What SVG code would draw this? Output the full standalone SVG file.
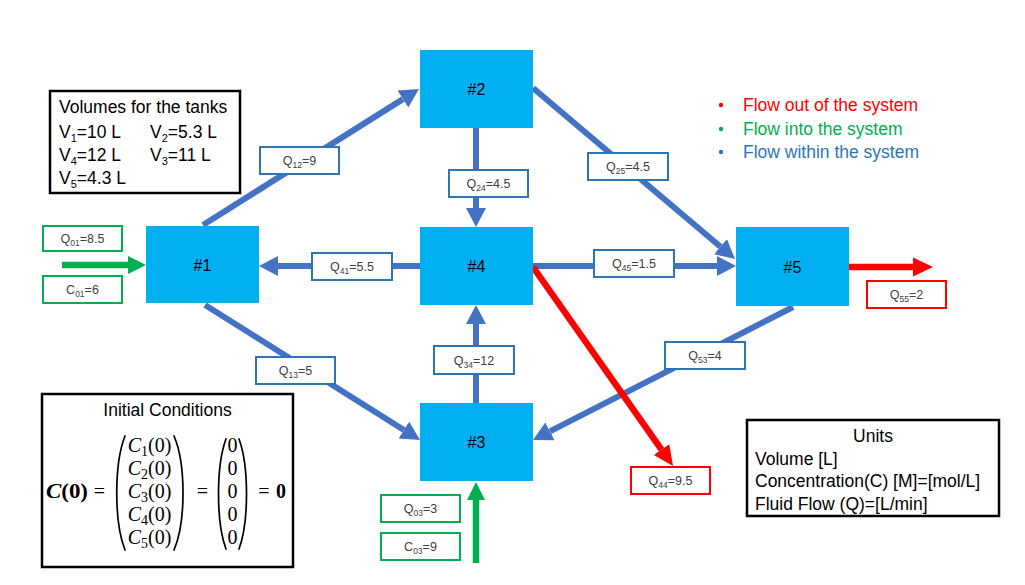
<svg xmlns="http://www.w3.org/2000/svg" width="1025" height="585" viewBox="0 0 1025 585">
<style>
  .tank { fill: #00B0F0; }
  .tname { font-family: "Liberation Sans", Arial, sans-serif; font-size: 16px; fill: #000; text-anchor: middle; }
  .blue { stroke: #4472C4; stroke-width: 6; fill: none; }
  .red { stroke: #FF0000; stroke-width: 6.5; fill: none; }
  .green { stroke: #00B050; stroke-width: 6.5; fill: none; }
  .lb { fill: #fff; stroke: #2E75B6; stroke-width: 2; }
  .lr { fill: #fff; stroke: #FF0000; stroke-width: 2; }
  .lg { fill: #fff; stroke: #00B050; stroke-width: 2; }
  .lt { font-family: "Liberation Sans", Arial, sans-serif; font-size: 12.5px; fill: #404040; text-anchor: middle; }
  .box { fill: #fff; stroke: #000; stroke-width: 2.5; }
  .bt { font-family: "Liberation Sans", Arial, sans-serif; font-size: 17.5px; fill: #000; }
  .leg { font-family: "Liberation Sans", Arial, sans-serif; font-size: 17.5px; }
  .m { font-family: "Liberation Serif", "DejaVu Serif", serif; font-size: 20px; fill: #000; }
  .par { fill: none; stroke: #000; stroke-width: 1.7; stroke-linecap: round; }
</style>
<defs>
  <marker id="ab" viewBox="0 0 20 20" refX="0" refY="10" markerWidth="20" markerHeight="20" markerUnits="userSpaceOnUse" orient="auto">
    <path d="M0,0 L19,10 L0,20 z" fill="#4472C4"/>
  </marker>
  <marker id="ar" viewBox="0 0 20 20" refX="0" refY="10" markerWidth="20" markerHeight="20" markerUnits="userSpaceOnUse" orient="auto">
    <path d="M0,0.5 L20,10 L0,19.5 z" fill="#FF0000"/>
  </marker>
  <marker id="ag" viewBox="0 0 20 20" refX="0" refY="10" markerWidth="20" markerHeight="20" markerUnits="userSpaceOnUse" orient="auto">
    <path d="M0,1 L18,10 L0,19 z" fill="#00B050"/>
  </marker>
</defs>

<rect width="1025" height="585" fill="#fff"/>

<g id="connectors">
  <line id="c12" class="blue" x1="203" y1="225" x2="402.9" y2="99.1" marker-end="url(#ab)"/>
  <line id="c24" class="blue" x1="476" y1="128" x2="476" y2="208" marker-end="url(#ab)"/>
  <line id="c25" class="blue" x1="533" y1="88" x2="720.5" y2="246.7" marker-end="url(#ab)"/>
  <line id="c45" class="blue" x1="533" y1="266" x2="717" y2="266" marker-end="url(#ab)"/>
  <line id="c41" class="blue" x1="420" y1="266" x2="278" y2="266" marker-end="url(#ab)"/>
  <line id="c13" class="blue" x1="205" y1="305" x2="403.9" y2="430" marker-end="url(#ab)"/>
  <line id="c34" class="blue" x1="476" y1="403" x2="476" y2="324" marker-end="url(#ab)"/>
  <line id="c53" class="blue" x1="793" y1="307" x2="549.9" y2="431.3" marker-end="url(#ab)"/>
  <line id="c44" class="red" x1="533" y1="267" x2="661.5" y2="449.6" marker-end="url(#ar)"/>
  <line id="c55" class="red" x1="849" y1="267" x2="913" y2="267" marker-end="url(#ar)"/>
  <line id="c01" class="green" x1="62" y1="265" x2="128" y2="265" marker-end="url(#ag)"/>
  <line id="c03" class="green" x1="476" y1="563" x2="476" y2="500" marker-end="url(#ag)"/>
</g>

<g id="flow-labels">
  <g id="l01"><rect class="lg" x="43" y="226" width="79" height="25"/><text class="lt" x="82.5" y="243">Q<tspan dy="3" font-size="8.5">01</tspan><tspan dy="-3">=8.5</tspan></text></g>
  <g id="lc01"><rect class="lg" x="43" y="276" width="79" height="27"/><text class="lt" x="82.5" y="294">C<tspan dy="3" font-size="8.5">01</tspan><tspan dy="-3">=6</tspan></text></g>
  <g id="l12"><rect class="lb" x="260" y="147" width="79" height="27"/><text class="lt" x="299.5" y="165">Q<tspan dy="3" font-size="8.5">12</tspan><tspan dy="-3">=9</tspan></text></g>
  <g id="l24"><rect class="lb" x="449" y="170" width="79" height="27"/><text class="lt" x="488.5" y="188">Q<tspan dy="3" font-size="8.5">24</tspan><tspan dy="-3">=4.5</tspan></text></g>
  <g id="l25"><rect class="lb" x="588" y="153" width="80" height="27"/><text class="lt" x="628" y="171">Q<tspan dy="3" font-size="8.5">25</tspan><tspan dy="-3">=4.5</tspan></text></g>
  <g id="l41"><rect class="lb" x="312" y="253" width="80" height="27"/><text class="lt" x="352" y="271">Q<tspan dy="3" font-size="8.5">41</tspan><tspan dy="-3">=5.5</tspan></text></g>
  <g id="l45"><rect class="lb" x="594" y="250" width="80" height="27"/><text class="lt" x="634" y="268">Q<tspan dy="3" font-size="8.5">45</tspan><tspan dy="-3">=1.5</tspan></text></g>
  <g id="l13"><rect class="lb" x="256" y="357" width="79" height="27"/><text class="lt" x="295.5" y="375">Q<tspan dy="3" font-size="8.5">13</tspan><tspan dy="-3">=5</tspan></text></g>
  <g id="l34"><rect class="lb" x="434" y="346" width="80" height="28"/><text class="lt" x="474" y="364.5">Q<tspan dy="3" font-size="8.5">34</tspan><tspan dy="-3">=12</tspan></text></g>
  <g id="l53"><rect class="lb" x="665" y="342" width="80" height="27"/><text class="lt" x="705" y="360">Q<tspan dy="3" font-size="8.5">53</tspan><tspan dy="-3">=4</tspan></text></g>
  <g id="l44"><rect class="lr" x="631" y="467" width="79" height="27"/><text class="lt" x="670.5" y="485">Q<tspan dy="3" font-size="8.5">44</tspan><tspan dy="-3">=9.5</tspan></text></g>
  <g id="l55"><rect class="lr" x="867" y="281" width="79" height="27"/><text class="lt" x="906.5" y="299">Q<tspan dy="3" font-size="8.5">55</tspan><tspan dy="-3">=2</tspan></text></g>
  <g id="l03"><rect class="lg" x="381" y="495" width="79" height="27"/><text class="lt" x="420.5" y="513">Q<tspan dy="3" font-size="8.5">03</tspan><tspan dy="-3">=3</tspan></text></g>
  <g id="lc03"><rect class="lg" x="381" y="533" width="79" height="27"/><text class="lt" x="420.5" y="551">C<tspan dy="3" font-size="8.5">03</tspan><tspan dy="-3">=9</tspan></text></g>
</g>

<g id="tank1"><rect class="tank" x="146" y="226" width="113" height="77"/><text class="tname" x="202.5" y="270.5">#1</text></g>
<g id="tank2"><rect class="tank" x="420" y="50" width="113" height="78"/><text class="tname" x="476.5" y="95">#2</text></g>
<g id="tank4"><rect class="tank" x="420" y="227" width="113" height="78"/><text class="tname" x="476.5" y="272">#4</text></g>
<g id="tank3"><rect class="tank" x="420" y="403" width="113" height="78"/><text class="tname" x="476.5" y="448">#3</text></g>
<g id="tank5"><rect class="tank" x="736" y="227" width="113" height="79"/><text class="tname" x="792.5" y="272.5">#5</text></g>

<g id="volumes">
  <rect class="box" x="50" y="91" width="190" height="102"/>
  <text class="bt" x="59" y="113">Volumes for the tanks</text>
  <text class="bt" x="59" y="138">V<tspan dy="4" font-size="11">1</tspan><tspan dy="-4">=10 L</tspan></text>
  <text class="bt" x="150" y="138">V<tspan dy="4" font-size="11">2</tspan><tspan dy="-4">=5.3 L</tspan></text>
  <text class="bt" x="59" y="161">V<tspan dy="4" font-size="11">4</tspan><tspan dy="-4">=12 L</tspan></text>
  <text class="bt" x="150" y="161">V<tspan dy="4" font-size="11">3</tspan><tspan dy="-4">=11 L</tspan></text>
  <text class="bt" x="59" y="184">V<tspan dy="4" font-size="11">5</tspan><tspan dy="-4">=4.3 L</tspan></text>
</g>

<g id="legend">
  <circle cx="721" cy="105" r="2.2" fill="#FF0000"/>
  <text class="leg" x="743" y="111" fill="#FF0000">Flow out of the system</text>
  <circle cx="721" cy="129" r="2.2" fill="#00B050"/>
  <text class="leg" x="743" y="135" fill="#00B050">Flow into the system</text>
  <circle cx="721" cy="152" r="2.2" fill="#2E75B6"/>
  <text class="leg" x="743" y="158" fill="#2E75B6">Flow within the system</text>
</g>

<g id="initial-conditions">
  <rect class="box" x="42" y="394" width="251" height="173"/>
  <text class="bt" x="167.5" y="416" text-anchor="middle">Initial Conditions</text>
  <text class="m" x="46" y="498" font-size="21" font-weight="bold" textLength="42" lengthAdjust="spacingAndGlyphs"><tspan font-style="italic">C</tspan>(0)</text>
  <text class="m" x="99.5" y="498" font-size="22" text-anchor="middle">=</text>
  <path class="par" d="M125,436 C114,464 114,522 125,550"/>
  <text class="m" x="149.5" y="452" text-anchor="middle"><tspan font-style="italic">C</tspan><tspan dy="4" font-size="14">1</tspan><tspan dy="-4">(0)</tspan></text>
  <text class="m" x="149.5" y="475" text-anchor="middle"><tspan font-style="italic">C</tspan><tspan dy="4" font-size="14">2</tspan><tspan dy="-4">(0)</tspan></text>
  <text class="m" x="149.5" y="498" text-anchor="middle"><tspan font-style="italic">C</tspan><tspan dy="4" font-size="14">3</tspan><tspan dy="-4">(0)</tspan></text>
  <text class="m" x="149.5" y="521" text-anchor="middle"><tspan font-style="italic">C</tspan><tspan dy="4" font-size="14">4</tspan><tspan dy="-4">(0)</tspan></text>
  <text class="m" x="149.5" y="544" text-anchor="middle"><tspan font-style="italic">C</tspan><tspan dy="4" font-size="14">5</tspan><tspan dy="-4">(0)</tspan></text>
  <path class="par" d="M174,436 C186,464 186,522 174,550"/>
  <text class="m" x="202.5" y="498" font-size="22" text-anchor="middle">=</text>
  <path class="par" d="M226,439 C216,466 216,522 226,549"/>
  <text class="m" x="232.5" y="452" font-size="18" text-anchor="middle">0</text>
  <text class="m" x="232.5" y="475" font-size="18" text-anchor="middle">0</text>
  <text class="m" x="232.5" y="498" font-size="18" text-anchor="middle">0</text>
  <text class="m" x="232.5" y="521" font-size="18" text-anchor="middle">0</text>
  <text class="m" x="232.5" y="544" font-size="18" text-anchor="middle">0</text>
  <path class="par" d="M239,439 C249,466 249,522 239,549"/>
  <text class="m" x="264" y="498" font-size="22" text-anchor="middle">=</text>
  <text class="m" x="281" y="498" font-size="22" font-weight="bold" text-anchor="middle">0</text>
</g>

<g id="units">
  <rect class="box" x="747" y="420" width="252" height="96"/>
  <text class="bt" x="873" y="442" text-anchor="middle">Units</text>
  <text class="bt" x="755" y="465">Volume [L]</text>
  <text class="bt" x="755" y="487">Concentration(C) [M]=[mol/L]</text>
  <text class="bt" x="755" y="510">Fluid Flow (Q)=[L/min]</text>
</g>
</svg>
